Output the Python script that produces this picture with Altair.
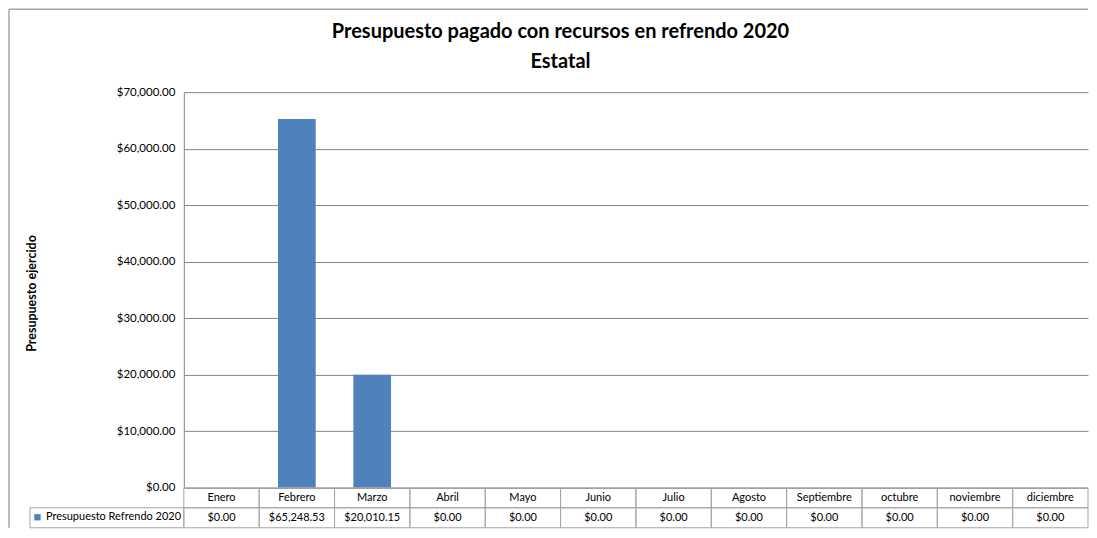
import altair as alt
import pandas as pd

# ---- data ----
months = ["Enero", "Febrero", "Marzo", "Abril", "Mayo", "Junio", "Julio",
          "Agosto", "Septiembre", "octubre", "noviembre", "diciembre"]
values = [0.00, 65248.53, 20010.15, 0.00, 0.00, 0.00, 0.00,
          0.00, 0.00, 0.00, 0.00, 0.00]
series_name = "Presupuesto Refrendo 2020"
y_ticks = [0, 10000, 20000, 30000, 40000, 50000, 60000, 70000]
title_lines = ["Presupuesto pagado con recursos en refrendo 2020", "Estatal"]
y_title = "Presupuesto ejercido"

# ---- layout / style ----
W, H, ROW = 905, 396, 20
FONT = "Lato"
BLUE = "#4f81bd"
GRID = "#868686"
CELL = "#a6a6a6"

df = pd.DataFrame({"month": months, "value": values, "serie": series_name})
title_df = pd.DataFrame({"line": title_lines, "idx": [0, 1]})
one = pd.DataFrame({"a": [0]})

x_bar = alt.X("month:N", sort=months,
              scale=alt.Scale(paddingInner=0.5, paddingOuter=0.25), axis=None)
x_tab = alt.X("month:N", sort=months,
              scale=alt.Scale(paddingInner=0, paddingOuter=0), axis=None)

bars = alt.Chart(df).mark_bar().encode(
    x=x_bar,
    y=alt.Y("value:Q", scale=alt.Scale(domain=[0, 70000], nice=False),
            axis=alt.Axis(values=y_ticks, format="$,.2f", title=y_title,
                          grid=True, gridColor=GRID, gridWidth=1,
                          domain=True, domainColor=GRID, ticks=False,
                          labelPadding=9, labelFont=FONT, labelFontSize=11.5,
                          labelColor="black", titleFont=FONT, titleFontSize=12.5,
                          titleFontWeight="bold", titleColor="black",
                          titleX=-145, titleY=H / 2 + 3, titleAngle=-90,
                          titleAlign="center", titleBaseline="bottom")),
    color=alt.Color("serie:N", scale=alt.Scale(range=[BLUE]),
                    legend=alt.Legend(orient="none", legendX=-152, legendY=H + ROW + 4,
                                      title=None, symbolType="square", symbolSize=40,
                                      symbolStrokeWidth=0, padding=0, labelOffset=3,
                                      labelFont=FONT, labelFontSize=11, labelColor="black")),
)

row1 = alt.Chart(df).mark_rect(fillOpacity=0, stroke=CELL, strokeWidth=1).encode(
    x=x_tab, y=alt.value(H), y2=alt.value(H + ROW))
row2 = alt.Chart(df).mark_rect(fillOpacity=0, stroke=CELL, strokeWidth=1).encode(
    x=x_tab, y=alt.value(H + ROW), y2=alt.value(H + 2 * ROW))
legend_cell = alt.Chart(one).mark_rect(fillOpacity=0, stroke=CELL, strokeWidth=1).encode(
    x=alt.value(-154), x2=alt.value(0), y=alt.value(H + ROW), y2=alt.value(H + 2 * ROW))

month_text = alt.Chart(df).mark_text(font=FONT, fontSize=11, color="black",
                                      baseline="middle").encode(
    x=x_tab, y=alt.value(H + ROW / 2), text="month:N")
value_text = alt.Chart(df).mark_text(font=FONT, fontSize=11, color="black",
                                      baseline="middle").encode(
    x=x_tab, y=alt.value(H + ROW * 1.5), text=alt.Text("value:Q", format="$,.2f"))

frame_left = alt.Chart(one).mark_rule(color="#a6a6a6", strokeWidth=1.5).encode(
    x=alt.value(-175), y=alt.value(-83), y2=alt.value(H + 2 * ROW))
frame_top = alt.Chart(one).mark_rule(color="#a6a6a6", strokeWidth=1.5).encode(
    x=alt.value(-175), x2=alt.value(W), y=alt.value(-83))

title_text = alt.Chart(title_df).mark_text(font=FONT, fontSize=20, fontWeight="bold",
                                           color="black", baseline="middle",
                                           align="center").encode(
    x=alt.value(377),
    y=alt.Y("idx:Q", scale=alt.Scale(domain=[0, 1], range=[-60, -30]), axis=None),
    text="line:N")

chart = alt.layer(
    frame_left, frame_top, bars, row1, row2, legend_cell, month_text, value_text, title_text
).resolve_scale(x="independent", y="independent").properties(
    width=W, height=H, padding=0, background="white"
).configure_view(stroke=None)

chart.save("out.html", embed_options={"renderer": "svg", "actions": False})
